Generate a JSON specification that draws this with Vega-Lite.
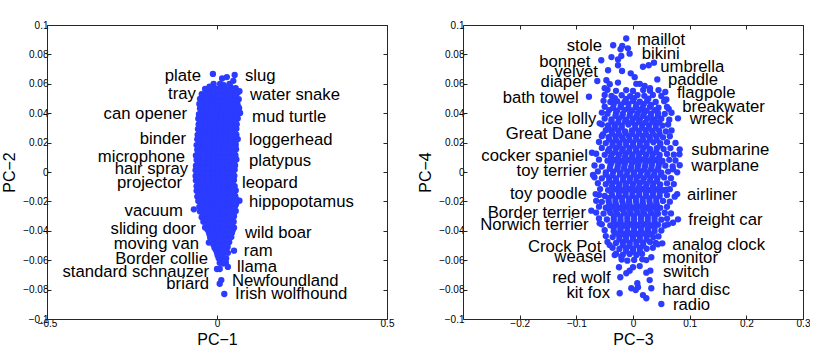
{
"$schema": "https://vega.github.io/schema/vega-lite/v6.json",
"padding": {"left": 1, "top": 20, "right": 0, "bottom": 0},
"config": {
  "font": "Liberation Sans",
  "view": {"stroke": null},
  "axis": {"domain": true, "domainColor": "#262626", "domainWidth": 1, "grid": false, "ticks": true, "tickSize": -4, "tickColor": "#262626", "tickWidth": 1, "labelFont": "Liberation Sans", "labelFontSize": 10, "labelColor": "#000", "labelPadding": 3, "labelFlush": false, "labelOverlap": false, "titleFont": "Liberation Sans", "titleFontSize": 16, "titleFontWeight": "normal", "titleColor": "#000"},
  "axisX": {"titlePadding": 3},
  "axisY": {"titlePadding": 5}
},
"datasets": {
"pc12": [
{"x":-0.012,"y":0.0667},{"x":0.052,"y":0.066},{"x":0.029,"y":0.0646},{"x":0.015,"y":0.0636},{"x":0.009,"y":0.06},{"x":-0.01,"y":0.06},{"x":0.037,"y":0.06},{"x":0.048,"y":0.062},{"x":0.02,"y":0.059},{"x":-0.022,"y":0.058},
{"x":-0.035,"y":0.0565},{"x":-0.02,"y":0.0575},{"x":-0.005,"y":0.0568},{"x":0.01,"y":0.0572},{"x":0.025,"y":0.0565},{"x":0.04,"y":0.0578},{"x":0.055,"y":0.057},
{"x":-0.045,"y":0.053},{"x":-0.03,"y":0.054},{"x":-0.016,"y":0.0533},{"x":0.0,"y":0.0538},{"x":0.014,"y":0.053},{"x":0.03,"y":0.054},{"x":0.045,"y":0.0532},{"x":0.06,"y":0.0538},{"x":0.066,"y":0.055},
{"x":-0.05,"y":0.0498},{"x":-0.037,"y":0.0505},{"x":-0.022,"y":0.0495},{"x":-0.008,"y":0.0503},{"x":0.007,"y":0.0497},{"x":0.022,"y":0.0505},{"x":0.037,"y":0.0498},{"x":0.052,"y":0.0502},{"x":0.064,"y":0.0495},
{"x":-0.052,"y":0.0463},{"x":-0.044,"y":0.047},{"x":-0.029,"y":0.0462},{"x":-0.014,"y":0.0468},{"x":0.0,"y":0.046},{"x":0.015,"y":0.0467},{"x":0.03,"y":0.0461},{"x":0.045,"y":0.0469},{"x":0.06,"y":0.0464},
{"x":-0.05,"y":0.0432},{"x":-0.036,"y":0.0427},{"x":-0.021,"y":0.0434},{"x":-0.006,"y":0.0428},{"x":0.009,"y":0.0433},{"x":0.024,"y":0.0426},{"x":0.039,"y":0.0432},{"x":0.054,"y":0.0428},{"x":0.065,"y":0.0435},
{"x":-0.053,"y":0.0393},{"x":-0.043,"y":0.04},{"x":-0.028,"y":0.0392},{"x":-0.013,"y":0.0398},{"x":0.002,"y":0.039},{"x":0.017,"y":0.0397},{"x":0.032,"y":0.0391},{"x":0.047,"y":0.0399},{"x":0.062,"y":0.0394},{"x":0.068,"y":0.0402},
{"x":-0.055,"y":0.0362},{"x":-0.04,"y":0.0357},{"x":-0.025,"y":0.0364},{"x":-0.01,"y":0.0358},{"x":0.005,"y":0.0363},{"x":0.02,"y":0.0356},{"x":0.035,"y":0.0362},{"x":0.05,"y":0.0358},{"x":0.061,"y":0.0364},
{"x":-0.054,"y":0.0323},{"x":-0.047,"y":0.033},{"x":-0.032,"y":0.0322},{"x":-0.017,"y":0.0328},{"x":-0.002,"y":0.032},{"x":0.013,"y":0.0327},{"x":0.028,"y":0.0321},{"x":0.043,"y":0.0329},{"x":0.058,"y":0.0324},
{"x":-0.056,"y":0.0292},{"x":-0.041,"y":0.0287},{"x":-0.026,"y":0.0294},{"x":-0.011,"y":0.0288},{"x":0.004,"y":0.0293},{"x":0.019,"y":0.0286},{"x":0.034,"y":0.0292},{"x":0.049,"y":0.0288},{"x":0.057,"y":0.0295},
{"x":-0.057,"y":0.0253},{"x":-0.048,"y":0.026},{"x":-0.033,"y":0.0252},{"x":-0.018,"y":0.0258},{"x":-0.003,"y":0.025},{"x":0.012,"y":0.0257},{"x":0.027,"y":0.0251},{"x":0.042,"y":0.0259},{"x":0.057,"y":0.0254},
{"x":-0.058,"y":0.0222},{"x":-0.043,"y":0.0217},{"x":-0.028,"y":0.0224},{"x":-0.013,"y":0.0218},{"x":0.002,"y":0.0223},{"x":0.017,"y":0.0216},{"x":0.032,"y":0.0222},{"x":0.047,"y":0.0218},{"x":0.061,"y":0.0224},
{"x":-0.06,"y":0.0183},{"x":-0.05,"y":0.019},{"x":-0.035,"y":0.0182},{"x":-0.02,"y":0.0188},{"x":-0.005,"y":0.018},{"x":0.01,"y":0.0187},{"x":0.025,"y":0.0181},{"x":0.04,"y":0.0189},{"x":0.055,"y":0.0184},
{"x":-0.058,"y":0.0152},{"x":-0.043,"y":0.0147},{"x":-0.028,"y":0.0154},{"x":-0.013,"y":0.0148},{"x":0.002,"y":0.0153},{"x":0.017,"y":0.0146},{"x":0.032,"y":0.0152},{"x":0.047,"y":0.0148},{"x":0.056,"y":0.0155},
{"x":-0.062,"y":0.0113},{"x":-0.05,"y":0.012},{"x":-0.035,"y":0.0112},{"x":-0.02,"y":0.0118},{"x":-0.005,"y":0.011},{"x":0.01,"y":0.0117},{"x":0.025,"y":0.0111},{"x":0.04,"y":0.0119},{"x":0.054,"y":0.0114},
{"x":-0.06,"y":0.0082},{"x":-0.045,"y":0.0077},{"x":-0.03,"y":0.0084},{"x":-0.015,"y":0.0078},{"x":0.0,"y":0.0083},{"x":0.015,"y":0.0076},{"x":0.03,"y":0.0082},{"x":0.045,"y":0.0078},{"x":0.057,"y":0.0085},
{"x":-0.062,"y":0.0043},{"x":-0.052,"y":0.005},{"x":-0.037,"y":0.0042},{"x":-0.022,"y":0.0048},{"x":-0.007,"y":0.004},{"x":0.008,"y":0.0047},{"x":0.023,"y":0.0041},{"x":0.038,"y":0.0049},{"x":0.053,"y":0.0044},
{"x":-0.063,"y":0.0012},{"x":-0.048,"y":0.0007},{"x":-0.033,"y":0.0014},{"x":-0.018,"y":0.0008},{"x":-0.003,"y":0.0013},{"x":0.012,"y":0.0006},{"x":0.027,"y":0.0012},{"x":0.042,"y":0.0008},{"x":0.052,"y":0.0015},
{"x":-0.063,"y":-0.0027},{"x":-0.054,"y":-0.002},{"x":-0.039,"y":-0.0028},{"x":-0.024,"y":-0.0022},{"x":-0.009,"y":-0.003},{"x":0.006,"y":-0.0023},{"x":0.021,"y":-0.0029},{"x":0.036,"y":-0.0021},{"x":0.051,"y":-0.0026},
{"x":-0.062,"y":-0.0058},{"x":-0.047,"y":-0.0063},{"x":-0.032,"y":-0.0056},{"x":-0.017,"y":-0.0062},{"x":-0.002,"y":-0.0057},{"x":0.013,"y":-0.0064},{"x":0.028,"y":-0.0058},{"x":0.043,"y":-0.0062},{"x":0.05,"y":-0.0055},
{"x":-0.06,"y":-0.0097},{"x":-0.052,"y":-0.009},{"x":-0.037,"y":-0.0098},{"x":-0.022,"y":-0.0092},{"x":-0.007,"y":-0.01},{"x":0.008,"y":-0.0093},{"x":0.023,"y":-0.0099},{"x":0.038,"y":-0.0091},{"x":0.052,"y":-0.0096},
{"x":-0.06,"y":-0.0128},{"x":-0.045,"y":-0.0133},{"x":-0.03,"y":-0.0126},{"x":-0.015,"y":-0.0132},{"x":0.0,"y":-0.0127},{"x":0.015,"y":-0.0134},{"x":0.03,"y":-0.0128},{"x":0.045,"y":-0.0132},{"x":0.055,"y":-0.0125},
{"x":-0.058,"y":-0.0167},{"x":-0.051,"y":-0.016},{"x":-0.036,"y":-0.0168},{"x":-0.021,"y":-0.0162},{"x":-0.006,"y":-0.017},{"x":0.009,"y":-0.0163},{"x":0.024,"y":-0.0169},{"x":0.039,"y":-0.0161},{"x":0.054,"y":-0.0166},
{"x":-0.055,"y":-0.0198},{"x":-0.043,"y":-0.0203},{"x":-0.028,"y":-0.0196},{"x":-0.013,"y":-0.0202},{"x":0.002,"y":-0.0197},{"x":0.017,"y":-0.0204},{"x":0.032,"y":-0.0198},{"x":0.047,"y":-0.0202},{"x":0.062,"y":-0.0195},
{"x":-0.052,"y":-0.0237},{"x":-0.037,"y":-0.023},{"x":-0.022,"y":-0.0238},{"x":-0.007,"y":-0.0232},{"x":0.008,"y":-0.024},{"x":0.023,"y":-0.0233},{"x":0.038,"y":-0.0239},{"x":0.053,"y":-0.0231},
{"x":-0.05,"y":-0.0268},{"x":-0.043,"y":-0.0273},{"x":-0.028,"y":-0.0266},{"x":-0.013,"y":-0.0272},{"x":0.002,"y":-0.0267},{"x":0.017,"y":-0.0274},{"x":0.032,"y":-0.0268},{"x":0.047,"y":-0.0272},{"x":0.055,"y":-0.0265},
{"x":-0.045,"y":-0.0307},{"x":-0.033,"y":-0.03},{"x":-0.018,"y":-0.0308},{"x":-0.003,"y":-0.0302},{"x":0.012,"y":-0.031},{"x":0.027,"y":-0.0303},{"x":0.042,"y":-0.0309},{"x":0.05,"y":-0.0301},
{"x":-0.04,"y":-0.0338},{"x":-0.026,"y":-0.0343},{"x":-0.011,"y":-0.0336},{"x":0.004,"y":-0.0342},{"x":0.019,"y":-0.0337},{"x":0.034,"y":-0.0344},{"x":0.049,"y":-0.0338},
{"x":-0.035,"y":-0.0377},{"x":-0.02,"y":-0.037},{"x":-0.005,"y":-0.0378},{"x":0.01,"y":-0.0372},{"x":0.025,"y":-0.038},{"x":0.04,"y":-0.0373},{"x":0.05,"y":-0.0379},
{"x":-0.024,"y":-0.0408},{"x":-0.012,"y":-0.0413},{"x":0.001,"y":-0.0406},{"x":0.014,"y":-0.0412},{"x":0.029,"y":-0.0407},{"x":0.044,"y":-0.0414},
{"x":-0.02,"y":-0.0447},{"x":-0.007,"y":-0.044},{"x":0.006,"y":-0.0448},{"x":0.02,"y":-0.0442},{"x":0.033,"y":-0.045},{"x":0.042,"y":-0.0443},
{"x":-0.014,"y":-0.0478},{"x":-0.002,"y":-0.0483},{"x":0.011,"y":-0.0476},{"x":0.024,"y":-0.0482},{"x":0.036,"y":-0.0477},
{"x":-0.007,"y":-0.0517},{"x":0.006,"y":-0.051},{"x":0.019,"y":-0.0518},{"x":0.031,"y":-0.0512},
{"x":0.0,"y":-0.0548},{"x":0.012,"y":-0.0553},{"x":0.025,"y":-0.0546},
{"x":0.005,"y":-0.0587},{"x":0.016,"y":-0.058},{"x":0.027,"y":-0.0588},
{"x":0.008,"y":-0.0618},{"x":0.018,"y":-0.0623},{"x":0.026,"y":-0.0616},
{"x":-0.068,"y":-0.0254},{"x":-0.031,"y":-0.0372},{"x":-0.024,"y":-0.048},{"x":0.05,"y":-0.0535},{"x":0.032,"y":-0.055},{"x":0.0,"y":-0.066},{"x":0.008,"y":-0.066},{"x":0.032,"y":-0.0646},{"x":0.0127,"y":-0.0735},{"x":0.008,"y":-0.076},{"x":0.0215,"y":-0.083},{"x":0.066,"y":-0.0195},
{"x":-0.028,"y":0.0554},{"x":-0.012,"y":0.0549},{"x":0.004,"y":0.0555},{"x":0.019,"y":0.055},{"x":0.034,"y":0.0556},{"x":0.05,"y":0.0551},
{"x":-0.042,"y":0.0519},{"x":-0.025,"y":0.0514},{"x":-0.009,"y":0.052},{"x":0.006,"y":0.0515},{"x":0.022,"y":0.0519},{"x":0.038,"y":0.0514},{"x":0.053,"y":0.052},
{"x":-0.046,"y":0.0484},{"x":-0.03,"y":0.0479},{"x":-0.015,"y":0.0485},{"x":0.0,"y":0.048},{"x":0.016,"y":0.0484},{"x":0.03,"y":0.0479},{"x":0.044,"y":0.0485},{"x":0.058,"y":0.048},
{"x":-0.045,"y":0.0449},{"x":-0.029,"y":0.0444},{"x":-0.013,"y":0.045},{"x":0.003,"y":0.0445},{"x":0.018,"y":0.0449},{"x":0.033,"y":0.0444},{"x":0.049,"y":0.045},{"x":0.062,"y":0.0445},
{"x":-0.046,"y":0.0414},{"x":-0.03,"y":0.0409},{"x":-0.016,"y":0.0415},{"x":0.0,"y":0.041},{"x":0.015,"y":0.0414},{"x":0.031,"y":0.0409},{"x":0.046,"y":0.0415},{"x":0.06,"y":0.041},
{"x":-0.048,"y":0.0379},{"x":-0.033,"y":0.0374},{"x":-0.018,"y":0.038},{"x":-0.003,"y":0.0375},{"x":0.012,"y":0.0379},{"x":0.027,"y":0.0374},{"x":0.042,"y":0.038},{"x":0.056,"y":0.0375},
{"x":-0.049,"y":0.0344},{"x":-0.034,"y":0.0339},{"x":-0.019,"y":0.0345},{"x":-0.004,"y":0.034},{"x":0.011,"y":0.0344},{"x":0.027,"y":0.0339},{"x":0.042,"y":0.0345},{"x":0.055,"y":0.034},
{"x":-0.05,"y":0.0309},{"x":-0.035,"y":0.0304},{"x":-0.02,"y":0.031},{"x":-0.005,"y":0.0305},{"x":0.01,"y":0.0309},{"x":0.025,"y":0.0304},{"x":0.04,"y":0.031},{"x":0.052,"y":0.0305},
{"x":-0.052,"y":0.0274},{"x":-0.036,"y":0.0269},{"x":-0.021,"y":0.0275},{"x":-0.006,"y":0.027},{"x":0.009,"y":0.0274},{"x":0.024,"y":0.0269},{"x":0.039,"y":0.0275},{"x":0.052,"y":0.027},
{"x":-0.051,"y":0.0239},{"x":-0.036,"y":0.0234},{"x":-0.021,"y":0.024},{"x":-0.006,"y":0.0235},{"x":0.01,"y":0.0239},{"x":0.025,"y":0.0234},{"x":0.04,"y":0.024},{"x":0.054,"y":0.0235},
{"x":-0.052,"y":0.0204},{"x":-0.037,"y":0.0199},{"x":-0.022,"y":0.0205},{"x":-0.007,"y":0.02},{"x":0.009,"y":0.0204},{"x":0.024,"y":0.0199},{"x":0.039,"y":0.0205},{"x":0.054,"y":0.02},
{"x":-0.053,"y":0.0169},{"x":-0.038,"y":0.0164},{"x":-0.023,"y":0.017},{"x":-0.008,"y":0.0165},{"x":0.007,"y":0.0169},{"x":0.022,"y":0.0164},{"x":0.037,"y":0.017},{"x":0.05,"y":0.0165},
{"x":-0.055,"y":0.0134},{"x":-0.04,"y":0.0129},{"x":-0.025,"y":0.0135},{"x":-0.01,"y":0.013},{"x":0.005,"y":0.0134},{"x":0.02,"y":0.0129},{"x":0.035,"y":0.0135},{"x":0.05,"y":0.013},
{"x":-0.054,"y":0.0099},{"x":-0.039,"y":0.0094},{"x":-0.024,"y":0.01},{"x":-0.009,"y":0.0095},{"x":0.006,"y":0.0099},{"x":0.021,"y":0.0094},{"x":0.036,"y":0.01},{"x":0.05,"y":0.0095},
{"x":-0.055,"y":0.0064},{"x":-0.04,"y":0.0059},{"x":-0.025,"y":0.0065},{"x":-0.01,"y":0.006},{"x":0.005,"y":0.0064},{"x":0.02,"y":0.0059},{"x":0.035,"y":0.0065},{"x":0.05,"y":0.006},
{"x":-0.056,"y":0.0029},{"x":-0.041,"y":0.0024},{"x":-0.026,"y":0.003},{"x":-0.011,"y":0.0025},{"x":0.004,"y":0.0029},{"x":0.019,"y":0.0024},{"x":0.034,"y":0.003},{"x":0.047,"y":0.0025},
{"x":-0.056,"y":-0.0006},{"x":-0.041,"y":-0.0011},{"x":-0.026,"y":-0.0005},{"x":-0.011,"y":-0.001},{"x":0.004,"y":-0.0006},{"x":0.019,"y":-0.0011},{"x":0.034,"y":-0.0005},{"x":0.047,"y":-0.001},
{"x":-0.056,"y":-0.0041},{"x":-0.041,"y":-0.0046},{"x":-0.026,"y":-0.004},{"x":-0.011,"y":-0.0045},{"x":0.004,"y":-0.0041},{"x":0.019,"y":-0.0046},{"x":0.034,"y":-0.004},{"x":0.046,"y":-0.0045},
{"x":-0.055,"y":-0.0076},{"x":-0.04,"y":-0.0081},{"x":-0.025,"y":-0.0075},{"x":-0.01,"y":-0.008},{"x":0.005,"y":-0.0076},{"x":0.02,"y":-0.0081},{"x":0.035,"y":-0.0075},{"x":0.046,"y":-0.008},
{"x":-0.054,"y":-0.0111},{"x":-0.039,"y":-0.0116},{"x":-0.024,"y":-0.011},{"x":-0.009,"y":-0.0115},{"x":0.006,"y":-0.0111},{"x":0.021,"y":-0.0116},{"x":0.036,"y":-0.011},{"x":0.048,"y":-0.0115},
{"x":-0.053,"y":-0.0146},{"x":-0.038,"y":-0.0151},{"x":-0.023,"y":-0.0145},{"x":-0.008,"y":-0.015},{"x":0.007,"y":-0.0146},{"x":0.022,"y":-0.0151},{"x":0.037,"y":-0.0145},{"x":0.05,"y":-0.015},
{"x":-0.05,"y":-0.0181},{"x":-0.035,"y":-0.0186},{"x":-0.02,"y":-0.018},{"x":-0.005,"y":-0.0185},{"x":0.01,"y":-0.0181},{"x":0.025,"y":-0.0186},{"x":0.04,"y":-0.018},{"x":0.055,"y":-0.0185},
{"x":-0.047,"y":-0.0216},{"x":-0.032,"y":-0.0221},{"x":-0.017,"y":-0.0215},{"x":-0.002,"y":-0.022},{"x":0.013,"y":-0.0216},{"x":0.028,"y":-0.0221},{"x":0.043,"y":-0.0215},{"x":0.056,"y":-0.022},
{"x":-0.045,"y":-0.0251},{"x":-0.03,"y":-0.0256},{"x":-0.015,"y":-0.025},{"x":0.0,"y":-0.0255},{"x":0.015,"y":-0.0251},{"x":0.03,"y":-0.0256},{"x":0.045,"y":-0.025},
{"x":-0.04,"y":-0.0286},{"x":-0.025,"y":-0.0291},{"x":-0.01,"y":-0.0285},{"x":0.005,"y":-0.029},{"x":0.02,"y":-0.0286},{"x":0.035,"y":-0.0291},{"x":0.048,"y":-0.0285},
{"x":-0.035,"y":-0.0321},{"x":-0.02,"y":-0.0326},{"x":-0.005,"y":-0.032},{"x":0.01,"y":-0.0325},{"x":0.025,"y":-0.0321},{"x":0.04,"y":-0.0326},
{"x":-0.03,"y":-0.0356},{"x":-0.015,"y":-0.0361},{"x":0.0,"y":-0.0355},{"x":0.015,"y":-0.036},{"x":0.03,"y":-0.0356},{"x":0.045,"y":-0.0361},
{"x":-0.028,"y":-0.0391},{"x":-0.012,"y":-0.0396},{"x":0.003,"y":-0.039},{"x":0.018,"y":-0.0395},{"x":0.033,"y":-0.0391},{"x":0.046,"y":-0.0396},
{"x":-0.022,"y":-0.0426},{"x":-0.007,"y":-0.0431},{"x":0.008,"y":-0.0425},{"x":0.023,"y":-0.043},{"x":0.037,"y":-0.0426},
{"x":-0.016,"y":-0.0461},{"x":-0.001,"y":-0.0466},{"x":0.014,"y":-0.046},{"x":0.029,"y":-0.0465},
{"x":-0.01,"y":-0.0496},{"x":0.004,"y":-0.0501},{"x":0.018,"y":-0.0495},{"x":0.03,"y":-0.05},
{"x":-0.003,"y":-0.0531},{"x":0.011,"y":-0.0536},{"x":0.022,"y":-0.053},
{"x":0.002,"y":-0.0566},{"x":0.016,"y":-0.0571},
{"x":0.01,"y":-0.0601},{"x":0.02,"y":-0.0606}
],
"pc34": [
{"x":-0.012,"y":0.0908},{"x":-0.035,"y":0.0862},{"x":-0.019,"y":0.0857},{"x":-0.022,"y":0.0835},{"x":-0.009,"y":0.0841},{"x":-0.006,"y":0.0805},{"x":-0.038,"y":0.0782},{"x":-0.0207,"y":0.0789},{"x":-0.056,"y":0.076},{"x":-0.0265,"y":0.0726},{"x":-0.044,"y":0.0692},{"x":-0.0194,"y":0.0687},{"x":-0.004,"y":0.0671},{"x":-0.063,"y":0.0619},{"x":-0.047,"y":0.0624},{"x":-0.0265,"y":0.0608},{"x":-0.0777,"y":0.0512},{"x":0.0176,"y":0.0716},{"x":0.0277,"y":0.0726},{"x":0.037,"y":0.0744},{"x":0.0429,"y":0.063},{"x":0.057,"y":0.0544},{"x":0.0588,"y":0.0494},{"x":0.063,"y":0.043},{"x":0.0794,"y":0.0365},{"x":0.0058,"y":0.06},{"x":0.012,"y":0.06},{"x":0.0206,"y":0.0585},{"x":-0.041,"y":0.0597},{"x":-0.0265,"y":0.0766},{"x":0.003,"y":0.0645},{"x":-0.05,"y":0.057},{"x":0.03,"y":0.057},
{"x":-0.045,"y":0.0559},{"x":-0.03,"y":0.0552},{"x":-0.012,"y":0.0557},{"x":0.0,"y":0.0551},{"x":0.018,"y":0.0558},{"x":0.03,"y":0.0553},{"x":0.045,"y":0.0557},
{"x":-0.05,"y":0.0524},{"x":-0.038,"y":0.0517},{"x":-0.02,"y":0.0522},{"x":-0.005,"y":0.0516},{"x":0.008,"y":0.0523},{"x":0.02,"y":0.0518},{"x":0.035,"y":0.0524},{"x":0.05,"y":0.0517},
{"x":-0.052,"y":0.0484},{"x":-0.04,"y":0.0477},{"x":-0.028,"y":0.0482},{"x":-0.015,"y":0.0476},{"x":0.0,"y":0.0483},{"x":0.012,"y":0.0478},{"x":0.025,"y":0.0484},{"x":0.04,"y":0.0477},{"x":0.055,"y":0.0482},
{"x":-0.05,"y":0.0444},{"x":-0.035,"y":0.0437},{"x":-0.022,"y":0.0442},{"x":-0.008,"y":0.0436},{"x":0.005,"y":0.0443},{"x":0.017,"y":0.0438},{"x":0.03,"y":0.0444},{"x":0.045,"y":0.0437},{"x":0.06,"y":0.0442},
{"x":-0.055,"y":0.0404},{"x":-0.045,"y":0.0397},{"x":-0.03,"y":0.0402},{"x":-0.018,"y":0.0396},{"x":-0.005,"y":0.0403},{"x":0.008,"y":0.0398},{"x":0.02,"y":0.0404},{"x":0.032,"y":0.0397},{"x":0.044,"y":0.0402},{"x":0.056,"y":0.0396},{"x":0.068,"y":0.0403},
{"x":-0.05,"y":0.0364},{"x":-0.038,"y":0.0357},{"x":-0.025,"y":0.0362},{"x":-0.012,"y":0.0356},{"x":0.0,"y":0.0363},{"x":0.012,"y":0.0358},{"x":0.025,"y":0.0364},{"x":0.038,"y":0.0357},{"x":0.05,"y":0.0362},{"x":0.064,"y":0.0356},
{"x":-0.055,"y":0.0324},{"x":-0.044,"y":0.0317},{"x":-0.032,"y":0.0322},{"x":-0.02,"y":0.0316},{"x":-0.008,"y":0.0323},{"x":0.004,"y":0.0318},{"x":0.016,"y":0.0324},{"x":0.028,"y":0.0317},{"x":0.04,"y":0.0322},{"x":0.052,"y":0.0316},{"x":0.062,"y":0.0323},
{"x":-0.048,"y":0.0284},{"x":-0.038,"y":0.0277},{"x":-0.026,"y":0.0282},{"x":-0.014,"y":0.0276},{"x":-0.002,"y":0.0283},{"x":0.01,"y":0.0278},{"x":0.022,"y":0.0284},{"x":0.034,"y":0.0277},{"x":0.046,"y":0.0282},{"x":0.058,"y":0.0276},{"x":0.068,"y":0.0283},
{"x":-0.055,"y":0.0244},{"x":-0.043,"y":0.0237},{"x":-0.031,"y":0.0242},{"x":-0.019,"y":0.0236},{"x":-0.007,"y":0.0243},{"x":0.005,"y":0.0238},{"x":0.017,"y":0.0244},{"x":0.029,"y":0.0237},{"x":0.041,"y":0.0242},{"x":0.053,"y":0.0236},{"x":0.065,"y":0.0243},
{"x":-0.06,"y":0.0204},{"x":-0.048,"y":0.0197},{"x":-0.036,"y":0.0202},{"x":-0.024,"y":0.0196},{"x":-0.012,"y":0.0203},{"x":0.0,"y":0.0198},{"x":0.012,"y":0.0204},{"x":0.024,"y":0.0197},{"x":0.036,"y":0.0202},{"x":0.048,"y":0.0196},{"x":0.06,"y":0.0203},{"x":0.075,"y":0.0198},
{"x":-0.055,"y":0.0164},{"x":-0.042,"y":0.0157},{"x":-0.03,"y":0.0162},{"x":-0.018,"y":0.0156},{"x":-0.006,"y":0.0163},{"x":0.006,"y":0.0158},{"x":0.018,"y":0.0164},{"x":0.03,"y":0.0157},{"x":0.042,"y":0.0162},{"x":0.054,"y":0.0156},{"x":0.066,"y":0.0163},
{"x":-0.065,"y":0.0124},{"x":-0.05,"y":0.0117},{"x":-0.037,"y":0.0122},{"x":-0.025,"y":0.0116},{"x":-0.013,"y":0.0123},{"x":-0.001,"y":0.0118},{"x":0.011,"y":0.0124},{"x":0.023,"y":0.0117},{"x":0.035,"y":0.0122},{"x":0.047,"y":0.0116},{"x":0.06,"y":0.0123},{"x":0.072,"y":0.0118},
{"x":-0.06,"y":0.0084},{"x":-0.045,"y":0.0077},{"x":-0.032,"y":0.0082},{"x":-0.02,"y":0.0076},{"x":-0.008,"y":0.0083},{"x":0.004,"y":0.0078},{"x":0.016,"y":0.0084},{"x":0.028,"y":0.0077},{"x":0.04,"y":0.0082},{"x":0.052,"y":0.0076},{"x":0.064,"y":0.0083},{"x":0.075,"y":0.0078},
{"x":-0.068,"y":0.0044},{"x":-0.055,"y":0.0037},{"x":-0.04,"y":0.0042},{"x":-0.027,"y":0.0036},{"x":-0.015,"y":0.0043},{"x":-0.003,"y":0.0038},{"x":0.009,"y":0.0044},{"x":0.021,"y":0.0037},{"x":0.033,"y":0.0042},{"x":0.045,"y":0.0036},{"x":0.057,"y":0.0043},{"x":0.07,"y":0.0038},
{"x":-0.062,"y":0.0004},{"x":-0.048,"y":-0.0003},{"x":-0.035,"y":0.0002},{"x":-0.022,"y":-0.0004},{"x":-0.01,"y":0.0003},{"x":0.002,"y":-0.0002},{"x":0.014,"y":0.0004},{"x":0.026,"y":-0.0003},{"x":0.038,"y":0.0002},{"x":0.05,"y":-0.0004},{"x":0.062,"y":0.0003},{"x":0.078,"y":-0.0002},
{"x":-0.068,"y":-0.0036},{"x":-0.055,"y":-0.0043},{"x":-0.042,"y":-0.0038},{"x":-0.03,"y":-0.0044},{"x":-0.017,"y":-0.0037},{"x":-0.005,"y":-0.0042},{"x":0.007,"y":-0.0036},{"x":0.019,"y":-0.0043},{"x":0.031,"y":-0.0038},{"x":0.043,"y":-0.0044},{"x":0.055,"y":-0.0037},{"x":0.067,"y":-0.0042},
{"x":-0.062,"y":-0.0076},{"x":-0.048,"y":-0.0083},{"x":-0.036,"y":-0.0078},{"x":-0.024,"y":-0.0084},{"x":-0.012,"y":-0.0077},{"x":0.0,"y":-0.0082},{"x":0.012,"y":-0.0076},{"x":0.024,"y":-0.0083},{"x":0.036,"y":-0.0078},{"x":0.048,"y":-0.0084},{"x":0.06,"y":-0.0077},{"x":0.072,"y":-0.0082},
{"x":-0.058,"y":-0.0116},{"x":-0.044,"y":-0.0123},{"x":-0.031,"y":-0.0118},{"x":-0.019,"y":-0.0124},{"x":-0.007,"y":-0.0117},{"x":0.005,"y":-0.0122},{"x":0.017,"y":-0.0116},{"x":0.029,"y":-0.0123},{"x":0.041,"y":-0.0118},{"x":0.053,"y":-0.0124},{"x":0.065,"y":-0.0117},
{"x":-0.06,"y":-0.0156},{"x":-0.05,"y":-0.0163},{"x":-0.037,"y":-0.0158},{"x":-0.025,"y":-0.0164},{"x":-0.013,"y":-0.0157},{"x":-0.001,"y":-0.0162},{"x":0.011,"y":-0.0156},{"x":0.023,"y":-0.0163},{"x":0.035,"y":-0.0158},{"x":0.047,"y":-0.0164},{"x":0.06,"y":-0.0157},
{"x":-0.065,"y":-0.0196},{"x":-0.055,"y":-0.0203},{"x":-0.043,"y":-0.0198},{"x":-0.031,"y":-0.0204},{"x":-0.019,"y":-0.0197},{"x":-0.007,"y":-0.0202},{"x":0.005,"y":-0.0196},{"x":0.017,"y":-0.0203},{"x":0.029,"y":-0.0198},{"x":0.041,"y":-0.0204},{"x":0.053,"y":-0.0197},{"x":0.065,"y":-0.0202},
{"x":-0.06,"y":-0.0236},{"x":-0.048,"y":-0.0243},{"x":-0.036,"y":-0.0238},{"x":-0.024,"y":-0.0244},{"x":-0.012,"y":-0.0237},{"x":0.0,"y":-0.0242},{"x":0.012,"y":-0.0236},{"x":0.024,"y":-0.0243},{"x":0.036,"y":-0.0238},{"x":0.048,"y":-0.0244},{"x":0.06,"y":-0.0237},
{"x":-0.065,"y":-0.0276},{"x":-0.052,"y":-0.0283},{"x":-0.04,"y":-0.0278},{"x":-0.028,"y":-0.0284},{"x":-0.016,"y":-0.0277},{"x":-0.004,"y":-0.0282},{"x":0.008,"y":-0.0276},{"x":0.02,"y":-0.0283},{"x":0.032,"y":-0.0278},{"x":0.044,"y":-0.0284},{"x":0.056,"y":-0.0277},{"x":0.067,"y":-0.0282},
{"x":-0.06,"y":-0.0316},{"x":-0.046,"y":-0.0323},{"x":-0.034,"y":-0.0318},{"x":-0.022,"y":-0.0324},{"x":-0.01,"y":-0.0317},{"x":0.002,"y":-0.0322},{"x":0.014,"y":-0.0316},{"x":0.026,"y":-0.0323},{"x":0.038,"y":-0.0318},{"x":0.05,"y":-0.0324},{"x":0.06,"y":-0.0317},
{"x":-0.055,"y":-0.0356},{"x":-0.04,"y":-0.0363},{"x":-0.028,"y":-0.0358},{"x":-0.016,"y":-0.0364},{"x":-0.004,"y":-0.0357},{"x":0.008,"y":-0.0362},{"x":0.02,"y":-0.0356},{"x":0.032,"y":-0.0363},{"x":0.044,"y":-0.0358},{"x":0.056,"y":-0.0364},
{"x":-0.05,"y":-0.0396},{"x":-0.034,"y":-0.0403},{"x":-0.022,"y":-0.0398},{"x":-0.01,"y":-0.0404},{"x":0.002,"y":-0.0397},{"x":0.014,"y":-0.0402},{"x":0.026,"y":-0.0396},{"x":0.038,"y":-0.0403},{"x":0.05,"y":-0.0398},
{"x":-0.048,"y":-0.0436},{"x":-0.036,"y":-0.0443},{"x":-0.024,"y":-0.0438},{"x":-0.012,"y":-0.0444},{"x":0.0,"y":-0.0437},{"x":0.012,"y":-0.0442},{"x":0.024,"y":-0.0436},{"x":0.036,"y":-0.0443},{"x":0.045,"y":-0.0438},
{"x":-0.045,"y":-0.0476},{"x":-0.03,"y":-0.0483},{"x":-0.018,"y":-0.0478},{"x":-0.006,"y":-0.0484},{"x":0.006,"y":-0.0477},{"x":0.018,"y":-0.0482},{"x":0.03,"y":-0.0476},{"x":0.04,"y":-0.0483},
{"x":-0.036,"y":-0.0516},{"x":-0.024,"y":-0.0523},{"x":-0.012,"y":-0.0518},{"x":0.0,"y":-0.0524},{"x":0.012,"y":-0.0517},{"x":0.024,"y":-0.0522},{"x":0.035,"y":-0.0516},
{"x":-0.03,"y":-0.0556},{"x":-0.018,"y":-0.0563},{"x":-0.006,"y":-0.0558},{"x":0.006,"y":-0.0564},{"x":0.016,"y":-0.0557},
{"x":-0.02,"y":-0.0596},{"x":-0.01,"y":-0.0603},{"x":0.002,"y":-0.0598},
{"x":-0.0588,"y":0.0331},{"x":-0.053,"y":0.0256},{"x":-0.0724,"y":0.0131},{"x":0.0824,"y":0.0154},{"x":0.082,"y":0.012},{"x":0.0824,"y":0.0046},{"x":0.0706,"y":0.0018},{"x":-0.0706,"y":-0.002},{"x":-0.0659,"y":-0.015},{"x":0.078,"y":-0.015},{"x":0.0736,"y":-0.0168},{"x":0.0577,"y":-0.0122},{"x":-0.0736,"y":-0.0263},{"x":-0.0588,"y":-0.0349},{"x":0.0794,"y":-0.0322},{"x":0.0706,"y":-0.0345},{"x":0.0618,"y":-0.0356},{"x":-0.0412,"y":-0.0497},{"x":0.0517,"y":-0.0485},{"x":0.044,"y":-0.0492},{"x":0.0323,"y":-0.058},{"x":0.0235,"y":-0.0599},{"x":0.0164,"y":-0.0594},{"x":-0.0323,"y":-0.0565},{"x":-0.0206,"y":-0.0576},{"x":-0.0247,"y":-0.0648},{"x":-0.0059,"y":-0.0671},{"x":-0.0118,"y":-0.0689},{"x":0.0,"y":-0.0648},{"x":0.0118,"y":-0.064},{"x":0.0235,"y":-0.0685},{"x":0.0306,"y":-0.0671},{"x":0.0294,"y":-0.0735},{"x":-0.0224,"y":-0.0716},{"x":-0.0235,"y":-0.0825},{"x":-0.003,"y":-0.0791},{"x":0.0047,"y":-0.0803},{"x":0.0088,"y":-0.0784},{"x":0.0076,"y":-0.0757},{"x":0.0176,"y":-0.0837},{"x":0.0235,"y":-0.0859},{"x":0.0323,"y":-0.0791},{"x":0.05,"y":-0.0898},
{"x":-0.032,"y":0.0502},{"x":-0.012,"y":0.0498},{"x":0.002,"y":0.0503},{"x":0.027,"y":0.0499},
{"x":-0.034,"y":0.0462},{"x":-0.021,"y":0.0458},{"x":-0.008,"y":0.0463},{"x":0.006,"y":0.0459},{"x":0.019,"y":0.0462},{"x":0.032,"y":0.0457},
{"x":-0.042,"y":0.0421},{"x":-0.028,"y":0.0418},{"x":-0.015,"y":0.0423},{"x":-0.001,"y":0.0419},{"x":0.011,"y":0.0422},{"x":0.024,"y":0.0417},{"x":0.038,"y":0.0421},
{"x":-0.031,"y":0.0382},{"x":-0.019,"y":0.0378},{"x":-0.006,"y":0.0383},{"x":0.006,"y":0.0379},{"x":0.018,"y":0.0382},{"x":0.031,"y":0.0377},{"x":0.044,"y":0.0381},
{"x":-0.038,"y":0.0342},{"x":-0.026,"y":0.0338},{"x":-0.014,"y":0.0343},{"x":-0.002,"y":0.0339},{"x":0.01,"y":0.0342},{"x":0.022,"y":0.0337},{"x":0.034,"y":0.0341},{"x":0.046,"y":0.0338},
{"x":-0.043,"y":0.0302},{"x":-0.032,"y":0.0298},{"x":-0.02,"y":0.0303},{"x":0.004,"y":0.0299},{"x":0.016,"y":0.0302},{"x":0.028,"y":0.0297},{"x":0.04,"y":0.0301},
{"x":-0.037,"y":0.0262},{"x":-0.025,"y":0.0258},{"x":-0.013,"y":0.0263},{"x":-0.001,"y":0.0259},{"x":0.011,"y":0.0262},{"x":0.023,"y":0.0257},{"x":0.035,"y":0.0261},{"x":0.047,"y":0.0258},
{"x":-0.042,"y":0.0222},{"x":-0.03,"y":0.0218},{"x":-0.018,"y":0.0223},{"x":-0.006,"y":0.0219},{"x":0.006,"y":0.0222},{"x":0.018,"y":0.0217},{"x":0.03,"y":0.0221},{"x":0.042,"y":0.0218},
{"x":-0.036,"y":0.0182},{"x":-0.024,"y":0.0178},{"x":-0.012,"y":0.0183},{"x":0.0,"y":0.0179},{"x":0.012,"y":0.0182},{"x":0.024,"y":0.0177},{"x":0.048,"y":0.0181},
{"x":-0.044,"y":0.0142},{"x":-0.031,"y":0.0138},{"x":-0.019,"y":0.0143},{"x":-0.007,"y":0.0139},{"x":0.005,"y":0.0142},{"x":0.017,"y":0.0137},{"x":0.029,"y":0.0141},{"x":0.041,"y":0.0138},
{"x":-0.039,"y":0.0102},{"x":-0.026,"y":0.0098},{"x":-0.014,"y":0.0103},{"x":-0.002,"y":0.0099},{"x":0.01,"y":0.0102},{"x":0.022,"y":0.0097},{"x":0.034,"y":0.0101},{"x":0.046,"y":0.0098},
{"x":-0.038,"y":0.0062},{"x":-0.026,"y":0.0058},{"x":-0.014,"y":0.0063},{"x":-0.002,"y":0.0059},{"x":0.01,"y":0.0062},{"x":0.022,"y":0.0057},{"x":0.034,"y":0.0061},{"x":0.046,"y":0.0058},
{"x":-0.041,"y":0.0022},{"x":-0.028,"y":0.0018},{"x":-0.016,"y":0.0023},{"x":-0.004,"y":0.0019},{"x":0.008,"y":0.0022},{"x":0.02,"y":0.0017},{"x":0.032,"y":0.0021},{"x":0.044,"y":0.0018},
{"x":-0.048,"y":-0.0018},{"x":-0.036,"y":-0.0022},{"x":-0.023,"y":-0.0017},{"x":-0.011,"y":-0.0021},{"x":0.001,"y":-0.0018},{"x":0.013,"y":-0.0023},{"x":0.025,"y":-0.0019},{"x":0.037,"y":-0.0022},{"x":0.049,"y":-0.0017},
{"x":-0.042,"y":-0.0058},{"x":-0.03,"y":-0.0062},{"x":-0.018,"y":-0.0057},{"x":-0.006,"y":-0.0061},{"x":0.006,"y":-0.0058},{"x":0.018,"y":-0.0063},{"x":0.03,"y":-0.0059},{"x":0.042,"y":-0.0062},
{"x":-0.037,"y":-0.0098},{"x":-0.025,"y":-0.0102},{"x":-0.013,"y":-0.0097},{"x":-0.001,"y":-0.0101},{"x":0.011,"y":-0.0098},{"x":0.023,"y":-0.0103},{"x":0.035,"y":-0.0099},{"x":0.047,"y":-0.0102},
{"x":-0.038,"y":-0.0138},{"x":-0.025,"y":-0.0142},{"x":-0.013,"y":-0.0137},{"x":-0.001,"y":-0.0141},{"x":0.011,"y":-0.0138},{"x":0.023,"y":-0.0143},{"x":0.035,"y":-0.0139},{"x":0.047,"y":-0.0142},
{"x":-0.043,"y":-0.0178},{"x":-0.031,"y":-0.0182},{"x":-0.019,"y":-0.0177},{"x":-0.007,"y":-0.0181},{"x":0.005,"y":-0.0178},{"x":0.017,"y":-0.0183},{"x":0.029,"y":-0.0179},{"x":0.041,"y":-0.0182},
{"x":-0.042,"y":-0.0218},{"x":-0.03,"y":-0.0222},{"x":-0.018,"y":-0.0217},{"x":-0.006,"y":-0.0221},{"x":0.006,"y":-0.0218},{"x":0.018,"y":-0.0223},{"x":0.03,"y":-0.0219},{"x":0.042,"y":-0.0222},
{"x":-0.042,"y":-0.0258},{"x":-0.03,"y":-0.0262},{"x":-0.018,"y":-0.0257},{"x":-0.006,"y":-0.0261},{"x":0.006,"y":-0.0258},{"x":0.018,"y":-0.0263},{"x":0.03,"y":-0.0259},{"x":0.042,"y":-0.0262},
{"x":-0.034,"y":-0.0298},{"x":-0.022,"y":-0.0302},{"x":-0.01,"y":-0.0297},{"x":0.002,"y":-0.0301},{"x":0.014,"y":-0.0298},{"x":0.026,"y":-0.0303},{"x":0.038,"y":-0.0299},
{"x":-0.034,"y":-0.0338},{"x":-0.022,"y":-0.0342},{"x":-0.01,"y":-0.0337},{"x":0.002,"y":-0.0341},{"x":0.014,"y":-0.0338},{"x":0.026,"y":-0.0343},{"x":0.038,"y":-0.0339},
{"x":-0.034,"y":-0.0378},{"x":-0.022,"y":-0.0382},{"x":-0.01,"y":-0.0377},{"x":0.002,"y":-0.0381},{"x":0.014,"y":-0.0378},{"x":0.026,"y":-0.0383},{"x":0.038,"y":-0.0379},
{"x":-0.03,"y":-0.0418},{"x":-0.018,"y":-0.0422},{"x":-0.006,"y":-0.0417},{"x":0.006,"y":-0.0421},{"x":0.018,"y":-0.0418},{"x":0.03,"y":-0.0423},
{"x":-0.024,"y":-0.0458},{"x":-0.012,"y":-0.0462},{"x":0.0,"y":-0.0457},{"x":0.012,"y":-0.0461},{"x":0.024,"y":-0.0458},
{"x":-0.018,"y":-0.0498},{"x":-0.006,"y":-0.0502},{"x":0.006,"y":-0.0497},{"x":0.018,"y":-0.0501},
{"x":-0.012,"y":-0.0538},{"x":0.0,"y":-0.0542},{"x":0.012,"y":-0.0537}
],
"lab12": [
{"label":"plate","side":"L","x":-0.047,"y":0.0655},{"label":"tray","side":"L","x":-0.062,"y":0.053},{"label":"can opener","side":"L","x":-0.088,"y":0.0395},{"label":"binder","side":"L","x":-0.091,"y":0.0224},{"label":"microphone","side":"L","x":-0.094,"y":0.0102},{"label":"hair spray","side":"L","x":-0.085,"y":0.002},{"label":"projector","side":"L","x":-0.103,"y":-0.0077},{"label":"vacuum","side":"L","x":-0.1,"y":-0.0263},{"label":"sliding door","side":"L","x":-0.062,"y":-0.0388},{"label":"moving van","side":"L","x":-0.053,"y":-0.0492},{"label":"Border collie","side":"L","x":-0.0265,"y":-0.0592},{"label":"standard schnauzer","side":"L","x":-0.0235,"y":-0.0682},{"label":"briard","side":"L","x":-0.0235,"y":-0.076},
{"label":"slug","side":"R","x":0.082,"y":0.065},{"label":"water snake","side":"R","x":0.097,"y":0.0524},{"label":"mud turtle","side":"R","x":0.103,"y":0.0374},{"label":"loggerhead","side":"R","x":0.094,"y":0.0218},{"label":"platypus","side":"R","x":0.094,"y":0.0075},{"label":"leopard","side":"R","x":0.0735,"y":-0.0073},{"label":"hippopotamus","side":"R","x":0.094,"y":-0.0206},{"label":"wild boar","side":"R","x":0.082,"y":-0.0413},{"label":"ram","side":"R","x":0.079,"y":-0.0537},{"label":"llama","side":"R","x":0.059,"y":-0.0648},{"label":"Newfoundland","side":"R","x":0.044,"y":-0.0739},{"label":"Irish wolfhound","side":"R","x":0.053,"y":-0.0832}
],
"lab34": [
{"label":"stole","side":"L","x":-0.0547,"y":0.0857},{"label":"bonnet","side":"L","x":-0.0753,"y":0.075},{"label":"velvet","side":"L","x":-0.0618,"y":0.0682},{"label":"diaper","side":"L","x":-0.0812,"y":0.061},{"label":"bath towel","side":"L","x":-0.0958,"y":0.0503},{"label":"ice lolly","side":"L","x":-0.0647,"y":0.036},{"label":"Great Dane","side":"L","x":-0.0724,"y":0.0256},{"label":"cocker spaniel","side":"L","x":-0.0794,"y":0.0107},{"label":"toy terrier","side":"L","x":-0.0812,"y":0.0007},{"label":"toy poodle","side":"L","x":-0.0812,"y":-0.0152},{"label":"Border terrier","side":"L","x":-0.083,"y":-0.0277},{"label":"Norwich terrier","side":"L","x":-0.0782,"y":-0.0363},{"label":"Crock Pot","side":"L","x":-0.056,"y":-0.0508},{"label":"weasel","side":"L","x":-0.0471,"y":-0.058},{"label":"red wolf","side":"L","x":-0.0394,"y":-0.0719},{"label":"kit fox","side":"L","x":-0.0406,"y":-0.0825},
{"label":"maillot","side":"R","x":0.007,"y":0.0898},{"label":"bikini","side":"R","x":0.0153,"y":0.0805},{"label":"umbrella","side":"R","x":0.0482,"y":0.0714},{"label":"paddle","side":"R","x":0.0617,"y":0.0624},{"label":"flagpole","side":"R","x":0.0776,"y":0.054},{"label":"breakwater","side":"R","x":0.087,"y":0.0442},{"label":"wreck","side":"R","x":0.1,"y":0.0363},{"label":"submarine","side":"R","x":0.1029,"y":0.0148},{"label":"warplane","side":"R","x":0.1029,"y":0.0039},{"label":"airliner","side":"R","x":0.0953,"y":-0.0156},{"label":"freight car","side":"R","x":0.0976,"y":-0.0327},{"label":"analog clock","side":"R","x":0.0693,"y":-0.0497},{"label":"monitor","side":"R","x":0.0517,"y":-0.0587},{"label":"switch","side":"R","x":0.0529,"y":-0.0682},{"label":"hard disc","side":"R","x":0.0517,"y":-0.0803},{"label":"radio","side":"R","x":0.0706,"y":-0.0905}
]
},
"bounds": "flush",
"spacing": 76,
"hconcat": [
{
 "width": 340, "height": 294,
 "resolve": {"axis": {"x": "independent", "y": "independent"}},
 "layer": [
  {"data": {"name": "pc12"}, "mark": {"type": "circle", "size": 40, "opacity": 1, "color": "#2b3bff"},
   "encoding": {
    "x": {"field": "x", "type": "quantitative", "scale": {"domain": [-0.5, 0.5], "nice": false, "zero": false}, "axis": {"orient": "bottom", "values": [-0.5, 0, 0.5], "format": ".2~f", "title": "PC−1"}},
    "y": {"field": "y", "type": "quantitative", "scale": {"domain": [-0.1, 0.1], "nice": false, "zero": false}, "axis": {"orient": "left", "values": [-0.1, -0.08, -0.06, -0.04, -0.02, 0, 0.02, 0.04, 0.06, 0.08, 0.1], "format": ".2~f", "title": "PC−2"}}
   }},
  {"data": {"name": "lab12"}, "transform": [{"filter": "datum.side === 'L'"}], "mark": {"type": "text", "align": "right", "baseline": "middle", "fontSize": 16.7, "font": "Liberation Sans", "color": "#000"},
   "encoding": {
    "x": {"field": "x", "type": "quantitative", "scale": {"domain": [-0.5, 0.5], "nice": false, "zero": false}, "axis": {"orient": "top", "values": [-0.5, 0, 0.5], "labels": false, "title": null}},
    "y": {"field": "y", "type": "quantitative", "scale": {"domain": [-0.1, 0.1], "nice": false, "zero": false}, "axis": {"orient": "right", "values": [-0.1, -0.08, -0.06, -0.04, -0.02, 0, 0.02, 0.04, 0.06, 0.08, 0.1], "labels": false, "title": null}},
    "text": {"field": "label"}
   }},
  {"data": {"name": "lab12"}, "transform": [{"filter": "datum.side === 'R'"}], "mark": {"type": "text", "align": "left", "baseline": "middle", "fontSize": 16.7, "font": "Liberation Sans", "color": "#000"},
   "encoding": {
    "x": {"field": "x", "type": "quantitative", "scale": {"domain": [-0.5, 0.5], "nice": false, "zero": false}, "axis": null},
    "y": {"field": "y", "type": "quantitative", "scale": {"domain": [-0.1, 0.1], "nice": false, "zero": false}, "axis": null},
    "text": {"field": "label"}
   }}
 ]
},
{
 "width": 340, "height": 294,
 "resolve": {"axis": {"x": "independent", "y": "independent"}},
 "layer": [
  {"data": {"name": "pc34"}, "mark": {"type": "circle", "size": 40, "opacity": 1, "color": "#2b3bff"},
   "encoding": {
    "x": {"field": "x", "type": "quantitative", "scale": {"domain": [-0.3, 0.3], "nice": false, "zero": false}, "axis": {"orient": "bottom", "values": [-0.2, -0.1, 0, 0.1, 0.2, 0.3], "format": ".2~f", "title": "PC−3"}},
    "y": {"field": "y", "type": "quantitative", "scale": {"domain": [-0.1, 0.1], "nice": false, "zero": false}, "axis": {"orient": "left", "values": [-0.1, -0.08, -0.06, -0.04, -0.02, 0, 0.02, 0.04, 0.06, 0.08, 0.1], "format": ".2~f", "title": "PC−4"}}
   }},
  {"data": {"name": "lab34"}, "transform": [{"filter": "datum.side === 'L'"}], "mark": {"type": "text", "align": "right", "baseline": "middle", "fontSize": 16.7, "font": "Liberation Sans", "color": "#000"},
   "encoding": {
    "x": {"field": "x", "type": "quantitative", "scale": {"domain": [-0.3, 0.3], "nice": false, "zero": false}, "axis": {"orient": "top", "values": [-0.2, -0.1, 0, 0.1, 0.2, 0.3], "labels": false, "title": null}},
    "y": {"field": "y", "type": "quantitative", "scale": {"domain": [-0.1, 0.1], "nice": false, "zero": false}, "axis": {"orient": "right", "values": [-0.1, -0.08, -0.06, -0.04, -0.02, 0, 0.02, 0.04, 0.06, 0.08, 0.1], "labels": false, "title": null}},
    "text": {"field": "label"}
   }},
  {"data": {"name": "lab34"}, "transform": [{"filter": "datum.side === 'R'"}], "mark": {"type": "text", "align": "left", "baseline": "middle", "fontSize": 16.7, "font": "Liberation Sans", "color": "#000"},
   "encoding": {
    "x": {"field": "x", "type": "quantitative", "scale": {"domain": [-0.3, 0.3], "nice": false, "zero": false}, "axis": null},
    "y": {"field": "y", "type": "quantitative", "scale": {"domain": [-0.1, 0.1], "nice": false, "zero": false}, "axis": null},
    "text": {"field": "label"}
   }}
 ]
}
]
}
